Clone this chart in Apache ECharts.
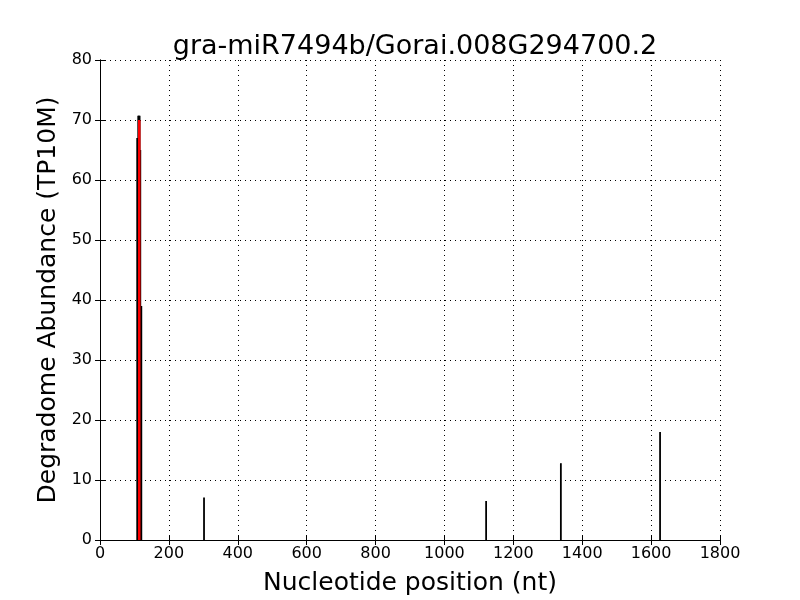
<!DOCTYPE html>
<html><head><meta charset="utf-8">
<script src="https://cdn.jsdelivr.net/npm/echarts@6/dist/echarts.min.js"></script>
<style>html,body{margin:0;padding:0;background:#fff}#c{width:800px;height:600px}</style>
</head><body><div id="c"></div>
<script>
const positions = [108, 111, 113, 115, 117, 120, 302, 1121, 1338, 1626];
const abundance = [67, 70.7, 70.7, 70.7, 65, 39, 7.1, 6.5, 12.8, 18];
const cleavagePos = [114];
const cleavageVal = [70];
const xTicks = [0, 200, 400, 600, 800, 1000, 1200, 1400, 1600, 1800];
const yTicks = [0, 10, 20, 30, 40, 50, 60, 70, 80];

const F = 'DejaVu Sans';
const chart = echarts.init(document.getElementById('c'));
function vline(color, width) {
  return function (params, api) {
    const p0 = api.coord([api.value(0), 0]);
    const p1 = api.coord([api.value(0), api.value(1)]);
    return {type: 'line', shape: {x1: p0[0], y1: p0[1], x2: p1[0], y2: p1[1]},
      style: {stroke: color, lineWidth: width}};
  };
}
const axisCommon = {
  axisLine: {show: true, lineStyle: {color: '#000', width: 1}},
  axisTick: {show: true, inside: true, length: 5, lineStyle: {color: '#000'}},
  splitLine: {show: false}
};
chart.setOption({
  animation: false,
  title: {text: 'gra-miR7494b/Gorai.008G294700.2', left: 410, top: 28, textAlign: 'center',
    textStyle: {fontFamily: F, fontSize: 27, fontWeight: 'normal', color: '#000'}},
  grid: {left: 100, right: 80, top: 60, bottom: 60, outerBoundsMode: 'none', containLabel: false},
  xAxis: [
    Object.assign({type: 'value', min: 0, max: 1800, interval: 200, position: 'bottom',
      name: 'Nucleotide position (nt)', nameLocation: 'middle', nameGap: 31,
      nameTextStyle: {fontFamily: F, fontSize: 25, color: '#000'},
      axisLabel: {fontFamily: F, fontSize: 16, color: '#000', margin: 6, formatter: v => String(v)}}, axisCommon,
      {splitLine: {show: true, lineStyle: {color: '#000', type: [1, 4], width: 1}}}),
    Object.assign({type: 'value', min: 0, max: 1800, interval: 200, position: 'top',
      axisLabel: {show: false}}, axisCommon)
  ],
  yAxis: [
    Object.assign({type: 'value', min: 0, max: 80, interval: 10, position: 'left',
      name: 'Degradome Abundance (TP10M)', nameLocation: 'middle', nameGap: 35,
      nameTextStyle: {fontFamily: F, fontSize: 25, color: '#000'},
      axisLabel: {fontFamily: F, fontSize: 16, color: '#000', margin: 8}}, axisCommon,
      {splitLine: {show: true, lineStyle: {color: '#000', type: [1, 4], width: 1}}}),
    Object.assign({type: 'value', min: 0, max: 80, interval: 10, position: 'right',
      axisLabel: {show: false}}, axisCommon)
  ],
  series: [
    {type: 'custom', renderItem: vline('#000', 1.8), encode: {x: 0, y: 1},
      data: positions.map((p, i) => [p, abundance[i]]), z: 2},
    {type: 'custom', renderItem: vline('#ff0000', 2.5), encode: {x: 0, y: 1},
      data: cleavagePos.map((p, i) => [p, cleavageVal[i]]), z: 3}
  ]
});
</script></body></html>
